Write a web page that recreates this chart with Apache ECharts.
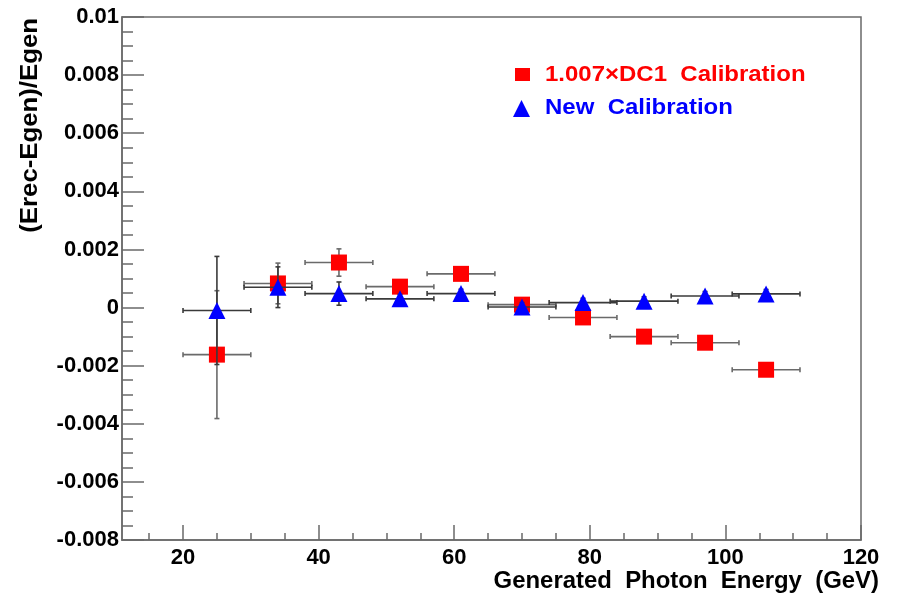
<!DOCTYPE html>
<html>
<head>
<meta charset="utf-8">
<script src="https://cdn.jsdelivr.net/npm/echarts@6/dist/echarts.min.js"></script>
<style>html,body{margin:0;padding:0;background:#fff}#c{width:897px;height:596px}</style>
</head>
<body>
<div id="c"></div>
<script>
// ---- data ----
var energies = [25, 34, 43, 52, 61, 70, 79, 88, 97, 106];
var energyErr = [5, 5, 5, 5, 5, 5, 5, 5, 5, 5];
var dc1Values = [-0.00162, 0.00083, 0.00155, 0.00072, 0.00116, 0.0001, -0.00034, -0.001, -0.00121, -0.00214];
var dc1Errors = [0.0022, 0.0007, 0.00047, 0.00015, 0.00015, 0.00015, 0.00015, 0.00015, 0.00015, 0.00015];
var newValues = [-0.0001, 0.0007, 0.00048, 0.0003, 0.00048, 0.00002, 0.00017, 0.00022, 0.0004, 0.00047];
var newErrors = [0.00186, 0.0007, 0.0004, 0.00015, 0.00015, 0.00015, 0.00015, 0.00015, 0.00015, 0.00015];
var xMajorTicks = [20, 40, 60, 80, 100, 120];
var xMinorTicks = [15, 25, 30, 35, 45, 50, 55, 65, 70, 75, 85, 90, 95, 105, 110, 115];
var seriesNames = ['1.007\u00d7DC1  Calibration', 'New  Calibration'];
var xTitle = 'Generated  Photon  Energy  (GeV)';
var yTitle = '(Erec-Egen)/Egen';

var FONT = '"Liberation Sans", Arial, Helvetica, sans-serif';
var AX = '#6a6a6a';

function pts(vals) { return energies.map(function (e, i) { return [e, vals[i]]; }); }
function errs(vals, ers) { return energies.map(function (e, i) { return [e, vals[i], energyErr[i], ers[i]]; }); }

function errRender(color) {
  return function (params, api) {
    var x = api.value(0), y = api.value(1), xe = api.value(2), ye = api.value(3);
    var l = api.coord([x - xe, y]), r = api.coord([x + xe, y]);
    var t = api.coord([x, y + ye]), b = api.coord([x, y - ye]);
    var st = { stroke: color, lineWidth: 1.6 };
    var c = 2.5;
    return {
      type: 'group',
      children: [
        { type: 'line', shape: { x1: l[0], y1: l[1], x2: r[0], y2: r[1] }, style: st },
        { type: 'line', shape: { x1: l[0], y1: l[1] - c, x2: l[0], y2: l[1] + c }, style: st },
        { type: 'line', shape: { x1: r[0], y1: r[1] - c, x2: r[0], y2: r[1] + c }, style: st },
        { type: 'line', shape: { x1: t[0], y1: t[1], x2: b[0], y2: b[1] }, style: st },
        { type: 'line', shape: { x1: t[0] - c, y1: t[1], x2: t[0] + c, y2: t[1] }, style: st },
        { type: 'line', shape: { x1: b[0] - c, y1: b[1], x2: b[0] + c, y2: b[1] }, style: st }
      ]
    };
  };
}

var chart = echarts.init(document.getElementById('c'), null, { renderer: 'canvas' });
chart.setOption({
  backgroundColor: '#fff',
  animation: false,
  textStyle: { fontFamily: FONT },
  grid: { left: 122, right: 36, top: 17, bottom: 56, show: true, borderColor: AX, borderWidth: 1.5, backgroundColor: 'transparent' },
  xAxis: [
    {
      type: 'value', min: 11, max: 120, position: 'bottom',
      splitLine: { show: false },
      axisLine: { show: true, onZero: false, lineStyle: { color: AX, width: 1.5 } },
      axisTick: { show: true, inside: true, length: 15, customValues: xMajorTicks, lineStyle: { color: AX, width: 1.5 } },
      axisLabel: { show: true, customValues: xMajorTicks, margin: 7, color: '#000', fontSize: 22, fontWeight: 'bold', fontFamily: FONT }
    },
    {
      type: 'value', min: 11, max: 120, position: 'bottom', gridIndex: 0,
      splitLine: { show: false },
      axisLine: { show: false, onZero: false },
      axisTick: { show: true, inside: true, length: 7, customValues: xMinorTicks, lineStyle: { color: AX, width: 1.5 } },
      axisLabel: { show: false }
    }
  ],
  yAxis: {
    type: 'value', min: -0.008, max: 0.01, interval: 0.002,
    splitLine: { show: false },
    axisLine: { show: true, onZero: false, lineStyle: { color: AX, width: 1.5 } },
    axisTick: { show: true, inside: true, length: 22, lineStyle: { color: AX, width: 1.5 } },
    minorTick: { show: true, splitNumber: 4, length: 11, lineStyle: { color: AX, width: 1.5 } },
    axisLabel: {
      margin: 3, color: '#000', fontSize: 22, fontWeight: 'bold', fontFamily: FONT,
      formatter: function (v) { return String(parseFloat(v.toFixed(4))); }
    }
  },
  graphic: [
    {
      type: 'text', x: 31, y: 18, rotation: Math.PI / 2, scaleX: 1.12,
      style: { text: yTitle, fill: '#000', font: 'bold 23px ' + FONT, align: 'right', verticalAlign: 'middle' }
    },
    {
      type: 'text', x: 879, y: 582, scaleX: 1.04,
      style: { text: xTitle, fill: '#000', font: 'bold 23px ' + FONT, align: 'right', verticalAlign: 'middle' }
    },
    {
      type: 'rect', shape: { x: 515, y: 68, width: 15, height: 13 }, style: { fill: '#ff0000' }
    },
    {
      type: 'text', x: 545, y: 75, scaleX: 1.09,
      style: { text: seriesNames[0], fill: '#ff0000', font: 'bold 22px ' + FONT, align: 'left', verticalAlign: 'middle' }
    },
    {
      type: 'polygon', shape: { points: [[521.5, 100], [513, 117], [530, 117]] }, style: { fill: '#0000ff' }
    },
    {
      type: 'text', x: 545, y: 108, scaleX: 1.09,
      style: { text: seriesNames[1], fill: '#0000ff', font: 'bold 22px ' + FONT, align: 'left', verticalAlign: 'middle' }
    }
  ],
  series: [
    {
      name: seriesNames[0] + ' err', type: 'custom', z: 2, renderItem: errRender('#6a6a6a'),
      data: errs(dc1Values, dc1Errors), silent: true
    },
    {
      name: seriesNames[0], type: 'scatter', z: 3, symbol: 'rect', symbolSize: 16,
      itemStyle: { color: '#ff0000', opacity: 1 }, data: pts(dc1Values)
    },
    {
      name: seriesNames[1] + ' err', type: 'custom', z: 4, renderItem: errRender('#3a3a3a'),
      data: errs(newValues, newErrors), silent: true
    },
    {
      name: seriesNames[1], type: 'scatter', z: 5, symbol: 'triangle', symbolSize: 17,
      itemStyle: { color: '#0000ff', opacity: 1 }, data: pts(newValues)
    }
  ]
});
</script>
</body>
</html>
